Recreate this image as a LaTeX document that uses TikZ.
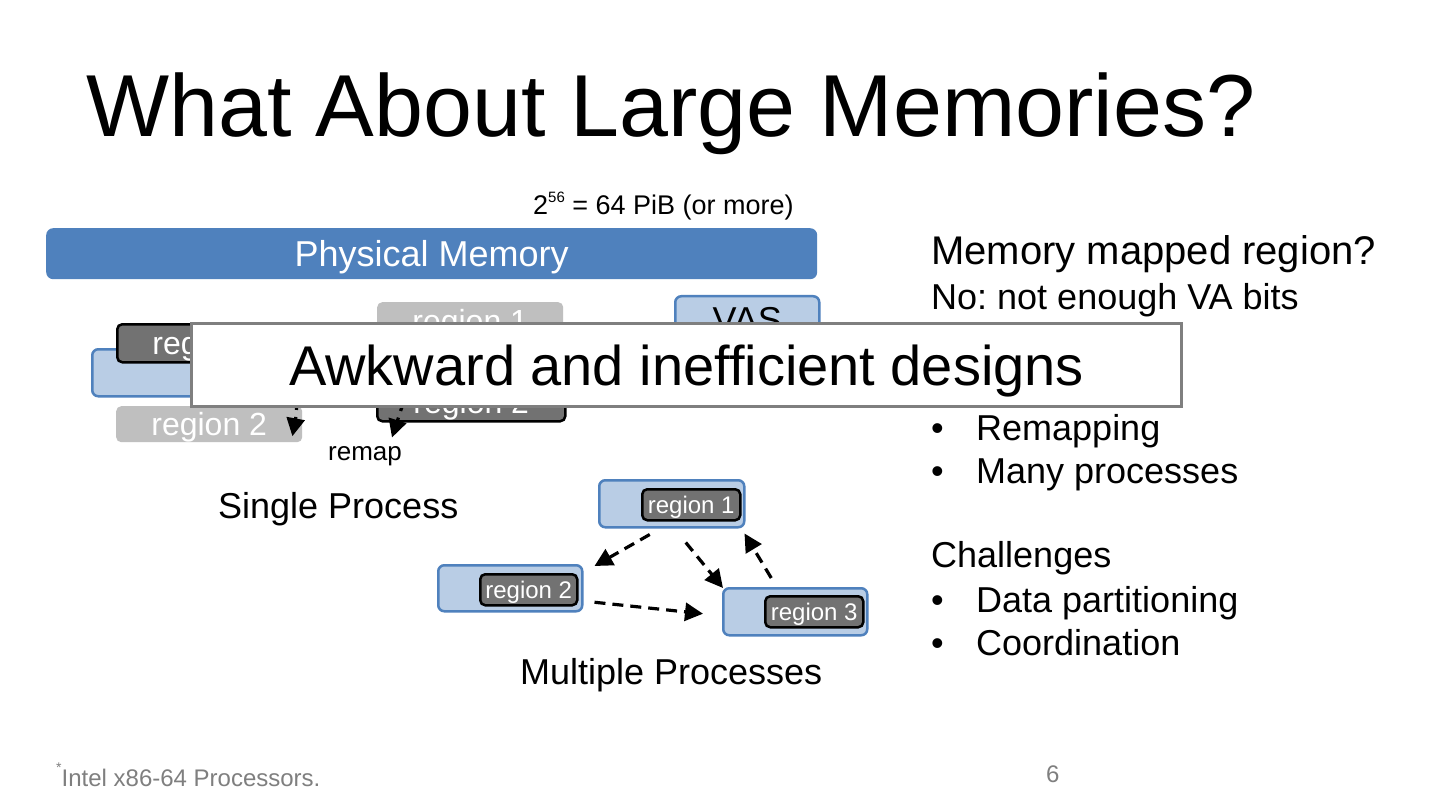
\documentclass[tikz,border=0pt]{standalone}
\usepackage{fontspec}
\setmainfont{Liberation Sans}
\usetikzlibrary{arrows.meta,calc}
\definecolor{barblue}{HTML}{4F81BD}
\definecolor{lightblue}{HTML}{B9CDE5}
\definecolor{darkreg}{HTML}{727272}
\definecolor{lightreg}{HTML}{BFBFBF}
\definecolor{footgray}{HTML}{7F7F7F}
\newcommand{\fs}[1]{\fontsize{#1}{#1}\selectfont}
\frenchspacing
\begin{document}
\begin{tikzpicture}[x=1pt,y=-1pt,
  vasbox/.style={draw=barblue,fill=lightblue,line width=2.5pt,rounded corners=6pt,inner sep=0pt,anchor=north west,text depth=0pt},
  darkbox/.style={draw=black,fill=darkreg,line width=2.5pt,rounded corners=5pt,inner sep=0pt,anchor=north west,text=white,text depth=0pt},
  lightbox/.style={fill=lightreg,rounded corners=5pt,inner sep=0pt,anchor=north west,text=white,text depth=0pt},
  txt/.style={inner sep=0pt,anchor=base west},
  dasharrow/.style={dashed,dash pattern=on 11pt off 7pt,line width=3.2pt,-{Triangle[length=18pt,width=18pt]}}
]
\useasboundingbox (0,0) rectangle (1440,810);
\fill[white] (0,0) rectangle (1440,810);

% title
\node[txt] (title) at (86,137) {\fs{88}What About Large Memories?};

% size label and bar
\node[txt] (size) at (533,215) {\fs{27}2\raisebox{0.45em}{\fs{15}56} = 64 PiB (or more)};
\node[fill=barblue,rounded corners=7pt,inner sep=0pt,anchor=north west,minimum width=771pt,minimum height=51pt,text=white,text depth=0pt] (phys) at (46,228) {\fs{36}Physical Memory};

% single process
\node[vasbox,minimum width=145pt,minimum height=47pt] (svas) at (91,348) {};
\node[darkbox,minimum width=186pt,minimum height=38pt] (sr1) at (116,323) {\fs{32}region 1};
\node[lightbox,minimum width=186pt,minimum height=36pt] (sr2) at (116,406) {\fs{32}region 2};
\node[lightbox,minimum width=186pt,minimum height=38pt] (mr1) at (377,302) {\fs{32}region 1};
\node[darkbox,minimum width=188pt,minimum height=38pt] (mr2) at (376,382) {\fs{32}region 2};
\node[vasbox,minimum width=144pt,minimum height=48pt] (rvas) at (674,295) {\fs{36}VAS};
\draw[dasharrow] ($(sr1.south east)+(-14,0)$) to[bend left=12] ($(sr2.east)+(-10,12)$);
\draw[dasharrow] ($(mr2.south west)+(28,-22)$) -- ($(mr2.south west)+(16,15)$);
\node[txt] (remap) at (328,460) {\fs{26}remap};
\node[txt] (single) at (218,518) {\fs{36}Single Process};

% multiple processes
\node[vasbox,minimum width=145pt,minimum height=47pt] (pa) at (598,479) {};
\node[darkbox,minimum width=98pt,minimum height=31pt] (pa1) at (641,488) {\fs{24}region 1};
\node[vasbox,minimum width=144pt,minimum height=46pt] (pb) at (437,564) {};
\node[darkbox,minimum width=97pt,minimum height=31pt] (pb1) at (479,573) {\fs{24}region 2};
\node[vasbox,minimum width=144pt,minimum height=47pt] (pc) at (722,587) {};
\node[darkbox,minimum width=98pt,minimum height=31pt] (pc1) at (764,595) {\fs{24}region 3};
\draw[dasharrow] ($(pa.south)+(-22,6)$) -- ($(pb.north east)+(11,2)$);
\draw[dasharrow] ($(pa.south)+(14,14)$) -- ($(pc.north west)+(1,1)$);
\draw[dasharrow] ($(pc.north)+(-24,-9)$) -- ($(pa.south east)+(-1,5)$);
\draw[dasharrow] ($(pb.east)+(11,14)$) -- ($(pc.west)+(-19,2)$);
\node[txt] (multi) at (520,684) {\fs{36}Multiple Processes};

% right text
\node[txt] (q) at (931,265) {\fs{40}Memory mapped region?};
\node[txt] (no) at (931,309) {\fs{36}No: not enough VA bits};
\node[txt] (b1) at (931,440) {\fs{36}•};
\node[txt] (t1) at (976,440) {\fs{36}Remapping};
\node[txt] (b2) at (931,483) {\fs{36}•};
\node[txt] (t2) at (976,483) {\fs{36}Many processes};
\node[txt] (ch) at (931,567) {\fs{36}Challenges};
\node[txt] (b3) at (931,612) {\fs{36}•};
\node[txt] (t3) at (976,612) {\fs{36}Data partitioning};
\node[txt] (b4) at (931,655) {\fs{36}•};
\node[txt] (t4) at (976,655) {\fs{36}Coordination};

% overlay
\node[draw=footgray,fill=white,line width=3pt,inner sep=0pt,anchor=north west,minimum width=990pt,minimum height=83pt,text depth=0pt] (over) at (190,322) {\fs{56}Awkward and inefficient designs};

% footer
\node[txt,text=footgray] (foot) at (56,786) {\fs{24}\raisebox{0.55em}{\fs{14}*}Intel x86-64 Processors.};
\node[txt,text=footgray] (page) at (1046,782) {\fs{24}6};
\end{tikzpicture}
\end{document}
